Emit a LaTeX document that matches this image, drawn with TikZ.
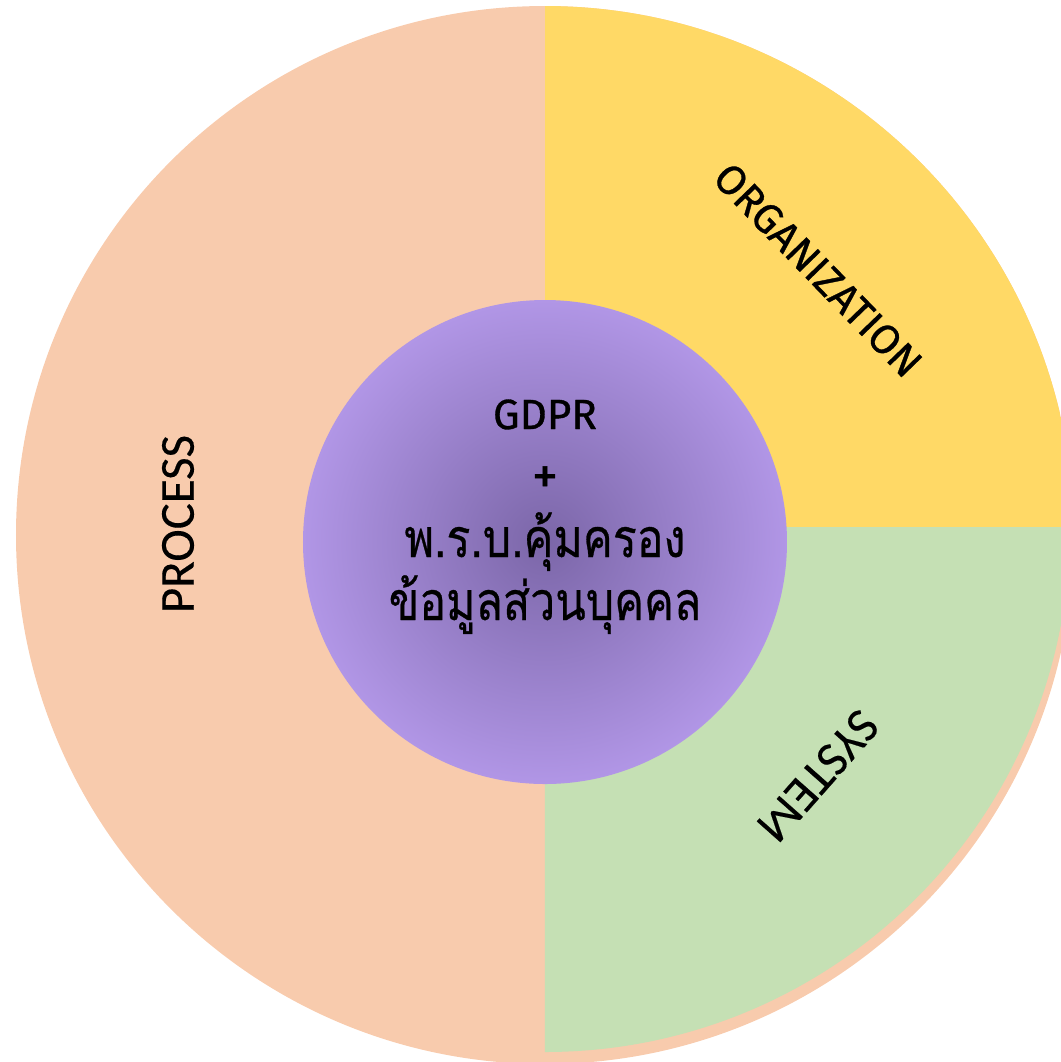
\documentclass[tikz,border=0pt]{standalone}
\usepackage{fontspec}
\usepackage{graphicx}
\newfontfamily\thaifont[Script=Thai,FakeBold=0.6]{Loma}
\newfontfamily\latinfont[FakeBold=0.8]{Fira Sans}
\newfontfamily\calfont[FakeBold=0.3]{Carlito}
\definecolor{peach}{HTML}{F8CBAD}
\definecolor{gold}{HTML}{FFD966}
\definecolor{sage}{HTML}{C5E0B4}
\definecolor{lilac}{HTML}{B196E6}
\definecolor{lilacdark}{HTML}{7B66A8}
\begin{document}
\begin{tikzpicture}[x=0.01cm,y=-0.01cm,
  seglabel/.style={font=\calfont\fontsize{13.9}{16}\selectfont, inner sep=0pt},
  orglabel/.style={font=\latinfont\fontsize{11.8}{13}\selectfont, inner sep=0pt},
  centertext/.style={inner sep=0pt, anchor=base}]
\useasboundingbox (0,0) rectangle (1061,1062);
% outer peach disc
\fill[peach] (545,535) circle[radius=529];
% yellow quarter (top right)
\begin{scope}
  \clip (545,535) circle[radius=529];
  \fill[gold] (545,0) rectangle (1100,527);
\end{scope}
% green quarter (bottom right)
\fill[sage] (545,527) -- ++(525,0) arc[start angle=0, end angle=90, radius=525] -- cycle;
% inner disc with radial shading
\shade[inner color=lilacdark, outer color=lilac] (545,542) circle[radius=242];
% labels
\node[seglabel, rotate=90] (process) at (178,524) {PROCESS};
\node[orglabel, rotate=-46] (org) at (818,270) {ORGANIZATION};
\node[seglabel, rotate=-131.5] (system) at (818,776) {SYSTEM};
% center text
\node[centertext, font=\latinfont\fontsize{12}{14}\selectfont] (gdpr) at (545,429) {GDPR};
\node[inner sep=0pt, font=\latinfont\fontsize{15}{16}\selectfont] (plus) at (545,480) {+};
\node[centertext, font=\thaifont\fontsize{12.7}{15}\selectfont] (th1) at (545,557) {\scalebox{1}[1.2]{พ.ร.บ.คุ้มครอง}};
\node[centertext, font=\thaifont\fontsize{12.7}{15}\selectfont] (th2) at (545,620) {\scalebox{1}[1.2]{ข้อมูลส่วนบุคคล}};
\end{tikzpicture}
\end{document}
